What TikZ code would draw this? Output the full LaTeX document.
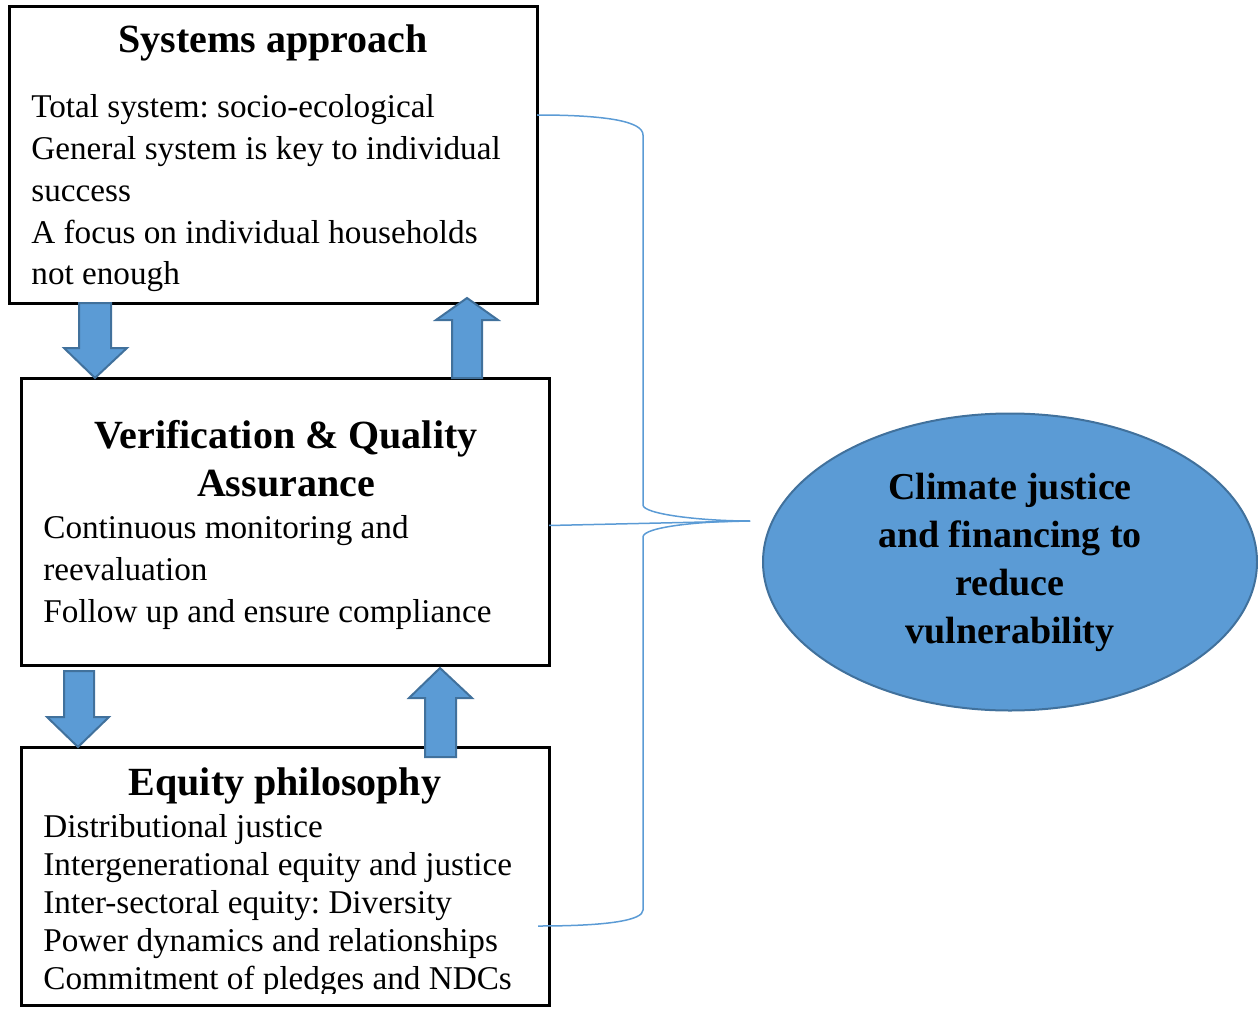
\documentclass[tikz,border=0pt]{standalone}
\usepackage{fontspec}
\setmainfont{Liberation Serif}
\usetikzlibrary{shapes.geometric}
\usetikzlibrary{calc}
\frenchspacing

\definecolor{officeblue}{HTML}{5B9BD5}
\definecolor{officeedge}{HTML}{41719C}

\newcommand\bodyfont{\fontsize{16.6}{20}\selectfont}
\newcommand\headfont{\fontsize{20}{24}\selectfont\bfseries}

\tikzset{
	box/.style={draw, line width=1.5pt, inner sep=0pt, outer sep=0pt, anchor=north west, minimum width=264pt},
	blockarrow/.style={draw=officeedge, fill=officeblue, line width=1pt, line join=miter},
	bracket/.style={draw=officeblue, line width=0.75pt},
	item/.style={font=\bodyfont, anchor=base west, inner sep=0pt},
	head/.style={font=\headfont, anchor=base, inner sep=0pt}
}

\begin{document}
\begin{tikzpicture}[x=0.5pt, y=-0.5pt]
	\useasboundingbox (0,0) rectangle (1258,1011);
	% boxes
	\node[box, minimum height=148pt] (sys) at (9,7) {};
	\node[box, minimum height=143.5pt] (ver) at (21,378) {};
	\node[box, minimum height=129pt] (eq) at (21,747) {};
	\node[ellipse, draw=officeedge, fill=officeblue, line width=1pt, minimum width=247pt, minimum height=148.5pt, align=center, font=\fontsize{19}{24}\selectfont\bfseries] (goal) at (1010,562) {Climate justice\\and financing to\\reduce\\vulnerability};
	% headings
	\node[head] (sys-h) at (273,53) {Systems approach};
	\node[head] (ver-h1) at (286,448) {Verification \& Quality};
	\node[head] (ver-h2) at (286,496) {Assurance};
	\node[head] (eq-h) at (285,795) {Equity philosophy};
	% items
	\foreach \t [count=\i from 0] in {Total system: socio-ecological, General system is key to individual, success, A focus on individual households, not enough}
		\node[item] (sys-\i) at (31,118+41.7*\i) {\t};
	\foreach \t [count=\i from 0] in {Continuous monitoring and, reevaluation, Follow up and ensure compliance}
		\node[item] (ver-\i) at (43,538+42*\i) {\t};
	\begin{scope}
		\clip (eq.north west) rectangle ($(eq.south east)+(0,-12)$);
		\foreach \t [count=\i from 0] in {Distributional justice, Intergenerational equity and justice, Inter-sectoral equity: Diversity, Power dynamics and relationships, Commitment of pledges and NDCs}
			\node[item] (eq-\i) at (43,837+38.2*\i) {\t};
	\end{scope}
	% block arrows
	\draw[blockarrow] ($(sys.south west)+(70,0)$) -- ++(32,0) -- ++(0,45) -- ++(16,0) -- ++(-32,30) -- ++(-31,-30) -- ++(15,0) -- cycle;
	\draw[blockarrow] ($(ver.north west)+(431,0)$) -- ++(0,-58) -- ++(-16,0) -- ++(31,-22) -- ++(31,22) -- ++(-16,0) -- ++(0,58) -- cycle;
	\draw[blockarrow] ($(ver.south west)+(43,6)$) -- ++(30,0) -- ++(0,46) -- ++(15,0) -- ++(-31,30) -- ++(-31,-30) -- ++(17,0) -- cycle;
	\draw[blockarrow] ($(eq.north west)+(404,10)$) -- ++(0,-59) -- ++(-16,0) -- ++(31,-30) -- ++(32,30) -- ++(-16,0) -- ++(0,59) -- cycle;
	% bracket
	\coordinate (tip) at (750,521);
	\draw[bracket] ($(sys.north east)+(0,108)$) .. controls (610,115) and (643,122) .. (643,135) -- (643,505) .. controls (643,514) and (700,521) .. (tip);
	\draw[bracket] ($(ver.east)+(0,4)$) -- (tip);
	\draw[bracket] (tip) .. controls (700,521) and (643,527) .. (643,537) -- (643,910) .. controls (643,920) and (610,926) .. ($(eq.south east)+(-11,-79)$);
\end{tikzpicture}
\end{document}
